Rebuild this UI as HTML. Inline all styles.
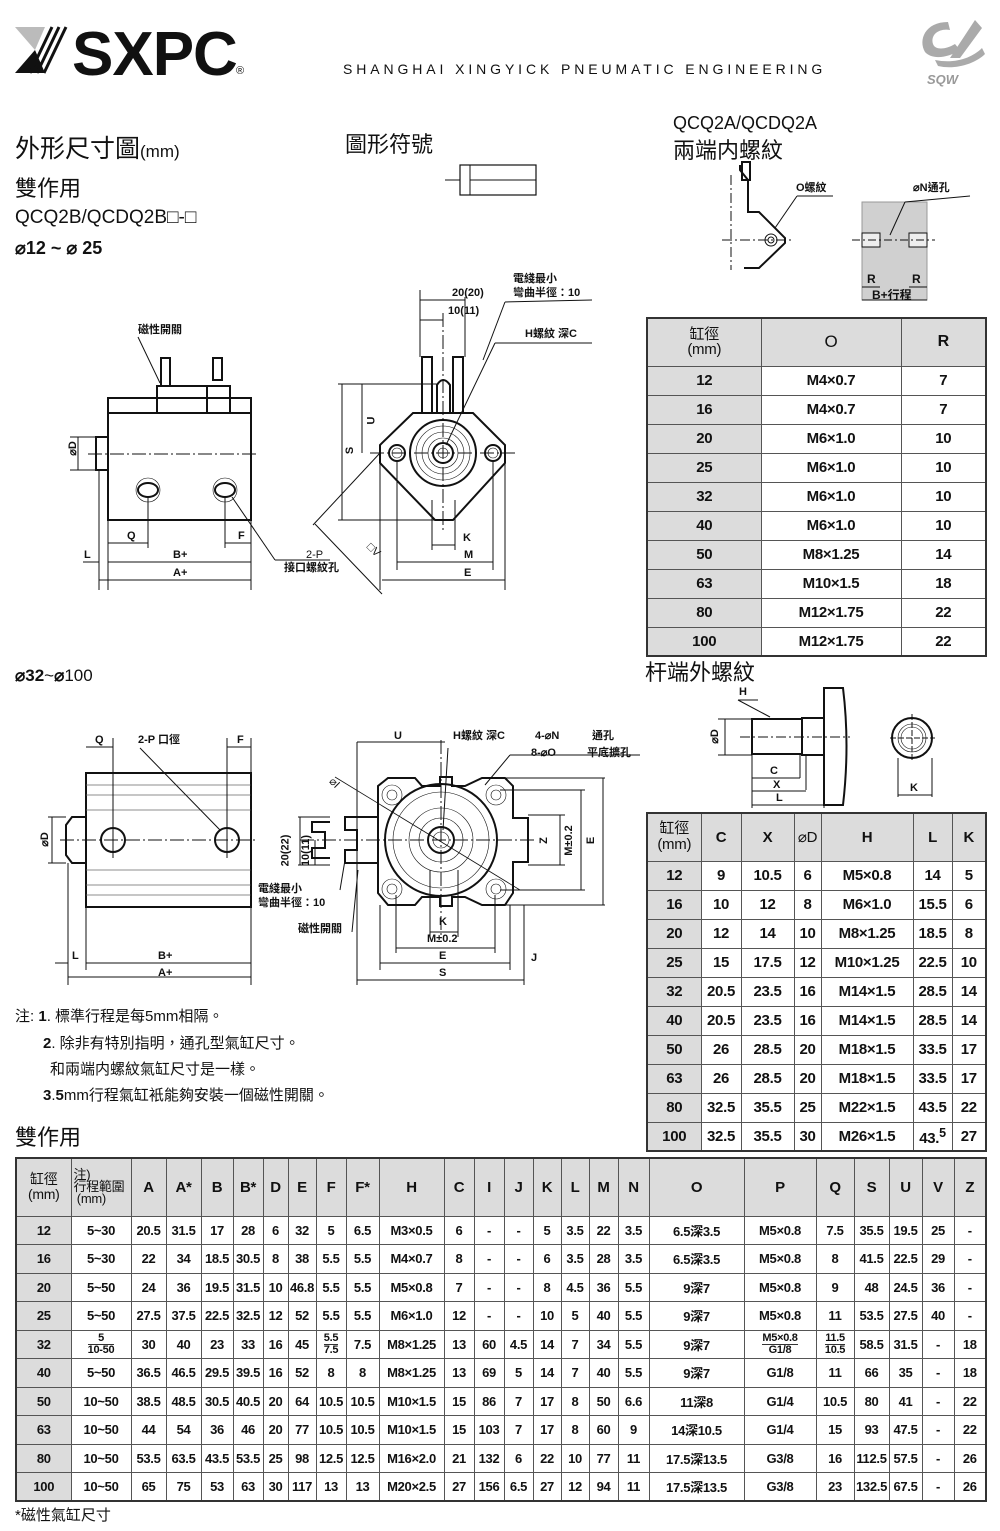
<!DOCTYPE html>
<html><head><meta charset="utf-8">
<style>
*{margin:0;padding:0;box-sizing:border-box}
body{width:1000px;height:1531px;background:#fff;position:relative;overflow:hidden;font-family:"Liberation Sans","Noto Sans CJK TC",sans-serif;color:#111}
.t{position:absolute;white-space:nowrap;line-height:1}
table{position:absolute;border-collapse:collapse;table-layout:fixed;border:2px solid #333}
td{border:1px solid #555;text-align:center;font-weight:bold;padding:0;overflow:hidden;white-space:nowrap;letter-spacing:-0.3px}
.g{background:#dcdcdc}
#t1 td{font-size:15px;height:29px}
#t2 td{font-size:15px;height:29px}
#t3 td{font-size:13px;height:28.5px}
.fr{display:inline-block;line-height:11px;font-size:11px}
.fr span{display:block}
svg{position:absolute;left:0;top:0}
</style></head><body>

<svg width="1000" height="1531" viewBox="0 0 1000 1531" fill="none" stroke="#111" stroke-width="1">
<polygon points="15,27 45,27 35,50" fill="#bbb" stroke="none"/>
<polygon points="15,73 45,73 35,50" fill="#111" stroke="none"/>
<g stroke="#111" stroke-width="3">
<line x1="30" y1="73" x2="52" y2="27"/><line x1="37" y1="73" x2="59" y2="27"/><line x1="44" y1="73" x2="66" y2="27"/>
</g>
<path d="M948,22 C925,22 918,40 925,52 C932,60 948,58 960,50 L955,44 C945,50 935,50 933,44 C930,34 940,28 950,30 Z" fill="#aaa" stroke="none"/>
<path d="M950,58 L975,20 L982,28 L960,58 Z" fill="#aaa" stroke="none"/>
<path d="M935,60 C955,64 972,58 982,48 L985,54 C975,64 955,70 938,66 Z" fill="#aaa" stroke="none"/>

<rect x="460" y="165" width="76" height="30" stroke-width="1.2"/>
<line x1="445" y1="180" x2="460" y2="180"/><line x1="470" y1="165" x2="470" y2="195"/>
<line x1="470" y1="180" x2="536" y2="180"/>

<g stroke-width="2">
<polyline points="740,165 740,170 748,180 748,212 759,212 785,238 785,243 759,268 744,268"/>
<rect x="742" y="162" width="8" height="18"/>
</g>
<line x1="731" y1="175" x2="731" y2="270" stroke-dasharray="10,3,2,3"/>
<line x1="722" y1="240" x2="793" y2="240" stroke-dasharray="10,3,2,3"/>
<circle cx="771" cy="240" r="6"/><circle cx="771" cy="240" r="3"/>
<line x1="775" y1="228" x2="797" y2="196"/><line x1="797" y1="196" x2="833" y2="196"/>
<path d="M862,202 L927,202 L927,300 L862,300 Z" fill="#d0d0d0" stroke="#999"/>
<rect x="862" y="233" width="18" height="14" fill="#eee"/><rect x="909" y="233" width="18" height="14" fill="#eee"/>
<line x1="852" y1="240" x2="935" y2="240" stroke-dasharray="8,3,2,3"/>
<line x1="890" y1="235" x2="905" y2="202"/><line x1="905" y1="202" x2="970" y2="196"/>
<line x1="862" y1="287" x2="880" y2="287"/><line x1="909" y1="287" x2="927" y2="287"/>
<line x1="862" y1="300" x2="927" y2="300"/>

<g stroke-width="2">
<rect x="108" y="398" width="143" height="122"/>
<line x1="108" y1="413" x2="251" y2="413"/>
<rect x="157" y="386" width="50" height="27"/>
<rect x="207" y="386" width="23" height="27"/>
<rect x="161" y="358" width="9" height="28"/>
<rect x="213" y="358" width="9" height="22"/>
<rect x="96" y="437" width="12" height="33"/>
<ellipse cx="148" cy="490" rx="10" ry="7"/>
<ellipse cx="225" cy="490" rx="10" ry="7"/>
</g>
<circle cx="148" cy="490" r="12" stroke-width="0.6"/><circle cx="225" cy="490" r="12" stroke-width="0.6"/>
<line x1="88" y1="454" x2="258" y2="454" stroke-dasharray="14,3,2,3"/>
<line x1="99" y1="470" x2="99" y2="590"/><line x1="108" y1="520" x2="108" y2="590"/><line x1="251" y1="520" x2="251" y2="590"/>
<line x1="148" y1="497" x2="148" y2="548"/><line x1="225" y1="497" x2="225" y2="548"/>
<line x1="108" y1="543" x2="148" y2="543"/><line x1="225" y1="543" x2="251" y2="543"/>
<line x1="108" y1="562" x2="251" y2="562"/><line x1="99" y1="580" x2="251" y2="580"/>
<line x1="83" y1="562" x2="99" y2="562"/>
<line x1="70" y1="437" x2="96" y2="437"/><line x1="70" y1="470" x2="96" y2="470"/><line x1="78" y1="437" x2="78" y2="470"/>
<line x1="138" y1="337" x2="160" y2="383"/>
<line x1="232" y1="497" x2="275" y2="560"/><line x1="275" y1="560" x2="330" y2="560"/>

<g stroke-width="2">
<polygon points="413,413 473,413 505,445 505,463 453,520 435,520 380,463 380,445"/>
<circle cx="443" cy="453" r="33"/>
<circle cx="443" cy="453" r="10"/>
<circle cx="397" cy="453" r="8"/><circle cx="493" cy="453" r="8"/>
<rect x="422" y="357" width="10" height="56"/>
<rect x="453" y="357" width="10" height="56"/>
<path d="M437,413 L437,385 Q443,375 450,385 L450,413"/>
</g>
<circle cx="443" cy="453" r="27" stroke-width="0.6"/><circle cx="443" cy="453" r="21" stroke-width="0.6"/><circle cx="443" cy="453" r="15" stroke-width="0.6"/><circle cx="443" cy="453" r="5" stroke-width="0.6"/>
<circle cx="397" cy="453" r="5" stroke-width="0.6"/><circle cx="493" cy="453" r="5" stroke-width="0.6"/>
<line x1="370" y1="453" x2="515" y2="453" stroke-dasharray="14,3,2,3"/>
<line x1="443" y1="313" x2="443" y2="530" stroke-dasharray="14,3,2,3"/>
<line x1="338" y1="384" x2="437" y2="384"/><line x1="338" y1="520" x2="435" y2="520"/>
<line x1="342" y1="384" x2="342" y2="520"/><line x1="362" y1="384" x2="362" y2="453"/>
<line x1="380" y1="463" x2="380" y2="590"/><line x1="397" y1="461" x2="397" y2="570"/><line x1="493" y1="461" x2="493" y2="570"/><line x1="505" y1="463" x2="505" y2="590"/>
<line x1="432" y1="500" x2="432" y2="550"/><line x1="455" y1="500" x2="455" y2="550"/>
<line x1="432" y1="545" x2="455" y2="545"/><line x1="397" y1="562" x2="493" y2="562"/><line x1="382" y1="580" x2="505" y2="580"/>
<line x1="313" y1="525" x2="380" y2="453"/><line x1="315" y1="524" x2="382" y2="594"/>
<line x1="420" y1="290" x2="420" y2="357"/><line x1="465" y1="297" x2="465" y2="357"/><line x1="420" y1="300" x2="465" y2="300"/><line x1="420" y1="320" x2="443" y2="320"/>
<line x1="483" y1="360" x2="505" y2="302"/><line x1="505" y1="302" x2="592" y2="300"/>
<line x1="446" y1="445" x2="495" y2="343"/><line x1="495" y1="343" x2="592" y2="343"/>

<g stroke-width="2">
<rect x="752" y="719" width="50" height="35"/>
<rect x="802" y="718" width="22" height="37"/>
<path d="M824,688 L843,688 Q850,745 843,805 L824,805 Z"/>
<circle cx="912" cy="738" r="20"/>
</g>
<circle cx="912" cy="738" r="14" stroke-width="0.6"/><circle cx="912" cy="738" r="11" stroke-width="0.6"/>
<line x1="740" y1="737" x2="850" y2="737" stroke-dasharray="10,3,2,3"/>
<line x1="890" y1="738" x2="935" y2="738" stroke-dasharray="6,2"/><line x1="912" y1="714" x2="912" y2="762" stroke-dasharray="6,2"/>
<line x1="718" y1="719" x2="752" y2="719"/><line x1="718" y1="755" x2="752" y2="755"/><line x1="725" y1="719" x2="725" y2="755"/>
<line x1="752" y1="755" x2="752" y2="808"/><line x1="800" y1="755" x2="800" y2="778"/><line x1="806" y1="755" x2="806" y2="790"/><line x1="824" y1="805" x2="824" y2="808"/>
<line x1="752" y1="778" x2="800" y2="778"/><line x1="752" y1="791" x2="806" y2="791"/><line x1="752" y1="805" x2="824" y2="805"/>
<line x1="898" y1="758" x2="898" y2="797"/><line x1="932" y1="758" x2="932" y2="797"/><line x1="898" y1="795" x2="932" y2="795"/>
<line x1="738" y1="700" x2="770" y2="717"/><line x1="738" y1="700" x2="758" y2="700"/>

<g stroke-width="2">
<rect x="86" y="773" width="165" height="134"/>
<path d="M86,817 L72,817 L66,825 L66,855 L72,863 L86,863"/>
<circle cx="113" cy="840" r="12"/><circle cx="227" cy="840" r="12"/>
</g>
<g stroke-width="0.7" stroke="#666">
<line x1="86" y1="785" x2="251" y2="785"/><line x1="86" y1="795" x2="251" y2="795"/><line x1="86" y1="810" x2="251" y2="810"/>
<line x1="86" y1="870" x2="251" y2="870"/><line x1="86" y1="885" x2="251" y2="885"/><line x1="86" y1="895" x2="251" y2="895"/>
</g>
<line x1="60" y1="840" x2="258" y2="840" stroke-dasharray="14,3,2,3"/>
<line x1="113" y1="738" x2="113" y2="858"/><line x1="227" y1="738" x2="227" y2="858"/><line x1="251" y1="738" x2="251" y2="985"/><line x1="86" y1="907" x2="86" y2="970"/><line x1="68" y1="863" x2="68" y2="985"/>
<line x1="86" y1="747" x2="113" y2="747"/><line x1="227" y1="747" x2="251" y2="747"/>
<line x1="86" y1="963" x2="251" y2="963"/><line x1="68" y1="977" x2="251" y2="977"/><line x1="55" y1="963" x2="68" y2="963"/>
<line x1="48" y1="817" x2="66" y2="817"/><line x1="48" y1="863" x2="66" y2="863"/><line x1="52" y1="817" x2="52" y2="863"/>
<line x1="140" y1="748" x2="220" y2="830"/>

<g stroke-width="2">
<path d="M388,778 L415,778 L422,786 L440,786 L440,777 L452,777 L452,786 L465,786 L482,778 L505,778 L513,786 L513,818 L528,818 L528,862 L513,862 L513,893 L505,905 L482,905 L465,897 L452,897 L452,906 L440,906 L440,897 L422,897 L415,905 L388,905 L378,893 L378,862 L378,818 L378,786 Z"/>
<circle cx="441" cy="840" r="56"/>
<circle cx="441" cy="840" r="13"/>
<path d="M378,817 L345,817 L345,830 L357,830 L357,850 L345,850 L345,863 L378,863"/>
<path d="M330,822 L312,822 L312,832 L325,832 L325,848 L312,848 L312,858 L330,858"/>
</g>
<g stroke-width="0.6">
<circle cx="441" cy="840" r="48"/><circle cx="441" cy="840" r="32"/><circle cx="441" cy="840" r="22"/><circle cx="441" cy="840" r="8"/>
<circle cx="392" cy="795" r="10"/><circle cx="392" cy="795" r="5"/><circle cx="496" cy="795" r="10"/><circle cx="496" cy="795" r="5"/>
<circle cx="392" cy="889" r="10"/><circle cx="392" cy="889" r="5"/><circle cx="496" cy="889" r="10"/><circle cx="496" cy="889" r="5"/>
</g>
<line x1="300" y1="840" x2="535" y2="840" stroke-dasharray="14,3,2,3"/>
<line x1="441" y1="740" x2="441" y2="935" stroke-dasharray="14,3,2,3"/>
<line x1="357" y1="742" x2="357" y2="985"/><line x1="524" y1="905" x2="524" y2="985"/><line x1="380" y1="905" x2="380" y2="970"/><line x1="510" y1="905" x2="510" y2="970"/>
<line x1="357" y1="742" x2="445" y2="742"/><line x1="357" y1="980" x2="524" y2="980"/><line x1="380" y1="963" x2="510" y2="963"/><line x1="396" y1="948" x2="495" y2="948"/><line x1="430" y1="932" x2="458" y2="932"/>
<line x1="396" y1="895" x2="396" y2="953"/><line x1="495" y1="895" x2="495" y2="953"/><line x1="430" y1="870" x2="430" y2="937"/><line x1="458" y1="870" x2="458" y2="937"/>
<line x1="505" y1="778" x2="605" y2="778"/><line x1="505" y1="905" x2="605" y2="905"/><line x1="603" y1="778" x2="603" y2="905"/>
<line x1="500" y1="790" x2="585" y2="790"/><line x1="500" y1="890" x2="585" y2="890"/><line x1="581" y1="790" x2="581" y2="890"/>
<line x1="528" y1="815" x2="565" y2="815"/><line x1="528" y1="865" x2="565" y2="865"/><line x1="560" y1="815" x2="560" y2="865"/>
<line x1="298" y1="817" x2="330" y2="817"/><line x1="298" y1="865" x2="330" y2="865"/><line x1="300" y1="817" x2="300" y2="865"/><line x1="315" y1="840" x2="315" y2="865"/>
<line x1="335" y1="777" x2="520" y2="890" stroke-width="0.8"/>
<line x1="485" y1="785" x2="510" y2="755"/><line x1="510" y1="755" x2="640" y2="755"/>
<line x1="443" y1="830" x2="448" y2="748"/>
<line x1="340" y1="890" x2="345" y2="860"/><line x1="352" y1="932" x2="358" y2="870"/>
</svg>

<div class="t" style="left:72px;top:24px;font-size:62px;font-weight:bold;letter-spacing:-1px">SXPC</div>
<div class="t" style="left:236px;top:66px;font-size:11px">®</div>
<div class="t" style="left:343px;top:62px;font-size:14px;letter-spacing:3.9px">SHANGHAI XINGYICK PNEUMATIC ENGINEERING</div>
<div class="t" style="left:927px;top:73px;font-size:13px;font-weight:bold;color:#999;font-style:italic">SQW</div>

<div class="t" style="left:15px;top:137px;font-size:25px">外形尺寸圖<span style="font-size:17px">(mm)</span></div>
<div class="t" style="left:15px;top:178px;font-size:22px">雙作用</div>
<div class="t" style="left:15px;top:208px;font-size:19px">QCQ2B/QCDQ2B□-□</div>
<div class="t" style="left:15px;top:239px;font-size:18px;font-weight:bold">⌀12 ~ ⌀ 25</div>
<div class="t" style="left:345px;top:134px;font-size:22px">圖形符號</div>
<div class="t" style="left:673px;top:114px;font-size:18px">QCQ2A/QCDQ2A</div>
<div class="t" style="left:673px;top:140px;font-size:22px">兩端内螺紋</div>
<div class="t" style="left:796px;top:183px;font-size:11px;font-weight:bold">O螺紋</div>
<div class="t" style="left:913px;top:183px;font-size:11px;font-weight:bold">⌀N通孔</div>
<div class="t" style="left:867px;top:273px;font-size:12px;font-weight:bold">R</div>
<div class="t" style="left:912px;top:273px;font-size:12px;font-weight:bold">R</div>
<div class="t" style="left:872px;top:289px;font-size:12px;font-weight:bold">B+行程</div>

<div class="t" style="left:138px;top:325px;font-size:11px;font-weight:bold">磁性開關</div>
<div class="t" style="left:66px;top:443px;font-size:11px;font-weight:bold;transform:rotate(-90deg)">⌀D</div>
<div class="t" style="left:127px;top:531px;font-size:11px;font-weight:bold">Q</div>
<div class="t" style="left:238px;top:531px;font-size:11px;font-weight:bold">F</div>
<div class="t" style="left:84px;top:550px;font-size:11px;font-weight:bold">L</div>
<div class="t" style="left:173px;top:550px;font-size:11px;font-weight:bold">B+</div>
<div class="t" style="left:173px;top:568px;font-size:11px;font-weight:bold">A+</div>
<div class="t" style="left:306px;top:550px;font-size:11px">2-P</div>
<div class="t" style="left:284px;top:563px;font-size:11px;font-weight:bold">接口螺紋孔</div>
<div class="t" style="left:513px;top:274px;font-size:11px;font-weight:bold">電綫最小</div>
<div class="t" style="left:513px;top:288px;font-size:11px;font-weight:bold">彎曲半徑：10</div>
<div class="t" style="left:452px;top:288px;font-size:11px;font-weight:bold">20(20)</div>
<div class="t" style="left:448px;top:306px;font-size:11px;font-weight:bold">10(11)</div>
<div class="t" style="left:525px;top:329px;font-size:11px;font-weight:bold">H螺紋 深C</div>
<div class="t" style="left:347px;top:445px;font-size:11px;font-weight:bold;transform:rotate(-90deg)">S</div>
<div class="t" style="left:368px;top:415px;font-size:11px;font-weight:bold;transform:rotate(-90deg)">U</div>
<div class="t" style="left:463px;top:533px;font-size:11px;font-weight:bold">K</div>
<div class="t" style="left:464px;top:550px;font-size:11px;font-weight:bold">M</div>
<div class="t" style="left:464px;top:568px;font-size:11px;font-weight:bold">E</div>
<div class="t" style="left:366px;top:545px;font-size:11px;transform:rotate(45deg)">□V</div>

<table id="t1" style="left:646px;top:317px;width:339px">
<col style="width:114px"><col style="width:140px"><col style="width:85px">
<tr class="g"><td style="height:48px;font-weight:normal;font-size:15px;line-height:15px">缸徑<br>(mm)</td><td style="font-weight:normal;font-size:17px">O</td><td style="font-size:16px">R</td></tr>
<tr><td class="g">12</td><td>M4×0.7</td><td>7</td></tr>
<tr><td class="g">16</td><td>M4×0.7</td><td>7</td></tr>
<tr><td class="g">20</td><td>M6×1.0</td><td>10</td></tr>
<tr><td class="g">25</td><td>M6×1.0</td><td>10</td></tr>
<tr><td class="g">32</td><td>M6×1.0</td><td>10</td></tr>
<tr><td class="g">40</td><td>M6×1.0</td><td>10</td></tr>
<tr><td class="g">50</td><td>M8×1.25</td><td>14</td></tr>
<tr><td class="g">63</td><td>M10×1.5</td><td>18</td></tr>
<tr><td class="g">80</td><td>M12×1.75</td><td>22</td></tr>
<tr><td class="g">100</td><td>M12×1.75</td><td>22</td></tr>
</table>

<div class="t" style="left:645px;top:662px;font-size:22px">杆端外螺紋</div>
<div class="t" style="left:739px;top:687px;font-size:11px;font-weight:bold">H</div>
<div class="t" style="left:708px;top:731px;font-size:11px;font-weight:bold;transform:rotate(-90deg)">⌀D</div>
<div class="t" style="left:770px;top:766px;font-size:11px;font-weight:bold">C</div>
<div class="t" style="left:773px;top:780px;font-size:11px;font-weight:bold">X</div>
<div class="t" style="left:776px;top:793px;font-size:11px;font-weight:bold">L</div>
<div class="t" style="left:910px;top:783px;font-size:11px;font-weight:bold">K</div>

<table id="t2" style="left:646px;top:812px;width:339px">
<col style="width:54px"><col style="width:40px"><col style="width:53px"><col style="width:27px"><col style="width:92px"><col style="width:39px"><col style="width:34px">
<tr class="g"><td style="height:48px;font-weight:normal;font-size:15px;line-height:16px">缸徑<br>(mm)</td><td>C</td><td>X</td><td style="font-weight:normal">⌀D</td><td>H</td><td>L</td><td>K</td></tr>
<tr><td class="g">12</td><td>9</td><td>10.5</td><td>6</td><td>M5×0.8</td><td>14</td><td>5</td></tr>
<tr><td class="g">16</td><td>10</td><td>12</td><td>8</td><td>M6×1.0</td><td>15.5</td><td>6</td></tr>
<tr><td class="g">20</td><td>12</td><td>14</td><td>10</td><td>M8×1.25</td><td>18.5</td><td>8</td></tr>
<tr><td class="g">25</td><td>15</td><td>17.5</td><td>12</td><td>M10×1.25</td><td>22.5</td><td>10</td></tr>
<tr><td class="g">32</td><td>20.5</td><td>23.5</td><td>16</td><td>M14×1.5</td><td>28.5</td><td>14</td></tr>
<tr><td class="g">40</td><td>20.5</td><td>23.5</td><td>16</td><td>M14×1.5</td><td>28.5</td><td>14</td></tr>
<tr><td class="g">50</td><td>26</td><td>28.5</td><td>20</td><td>M18×1.5</td><td>33.5</td><td>17</td></tr>
<tr><td class="g">63</td><td>26</td><td>28.5</td><td>20</td><td>M18×1.5</td><td>33.5</td><td>17</td></tr>
<tr><td class="g">80</td><td>32.5</td><td>35.5</td><td>25</td><td>M22×1.5</td><td>43.5</td><td>22</td></tr>
<tr><td class="g">100</td><td>32.5</td><td>35.5</td><td>30</td><td>M26×1.5</td><td>43.<sup>5</sup></td><td>27</td></tr>
</table>

<div class="t" style="left:15px;top:667px;font-size:17px"><b>⌀32</b>~<b>⌀</b>100</div>
<div class="t" style="left:95px;top:735px;font-size:11px;font-weight:bold">Q</div>
<div class="t" style="left:138px;top:735px;font-size:11px;font-weight:bold">2-P 口徑</div>
<div class="t" style="left:237px;top:735px;font-size:11px;font-weight:bold">F</div>
<div class="t" style="left:38px;top:834px;font-size:11px;font-weight:bold;transform:rotate(-90deg)">⌀D</div>
<div class="t" style="left:72px;top:951px;font-size:11px;font-weight:bold">L</div>
<div class="t" style="left:158px;top:951px;font-size:11px;font-weight:bold">B+</div>
<div class="t" style="left:158px;top:968px;font-size:11px;font-weight:bold">A+</div>
<div class="t" style="left:394px;top:731px;font-size:11px;font-weight:bold">U</div>
<div class="t" style="left:453px;top:731px;font-size:11px;font-weight:bold">H螺紋 深C</div>
<div class="t" style="left:535px;top:731px;font-size:11px;font-weight:bold">4-⌀N</div>
<div class="t" style="left:592px;top:731px;font-size:11px;font-weight:bold">通孔</div>
<div class="t" style="left:531px;top:748px;font-size:11px;font-weight:bold">8-⌀O</div>
<div class="t" style="left:587px;top:748px;font-size:11px;font-weight:bold">平底擴孔</div>
<div class="t" style="left:329px;top:778px;font-size:11px;transform:rotate(45deg)">⌀I</div>
<div class="t" style="left:270px;top:845px;font-size:11px;font-weight:bold;transform:rotate(-90deg)">20(22)</div>
<div class="t" style="left:291px;top:845px;font-size:11px;font-weight:bold;transform:rotate(-90deg)">10(11)</div>
<div class="t" style="left:541px;top:835px;font-size:11px;font-weight:bold;transform:rotate(-90deg)">Z</div>
<div class="t" style="left:554px;top:835px;font-size:11px;font-weight:bold;transform:rotate(-90deg)">M±0.2</div>
<div class="t" style="left:588px;top:835px;font-size:11px;font-weight:bold;transform:rotate(-90deg)">E</div>
<div class="t" style="left:258px;top:884px;font-size:11px;font-weight:bold">電綫最小</div>
<div class="t" style="left:258px;top:898px;font-size:11px;font-weight:bold">彎曲半徑：10</div>
<div class="t" style="left:298px;top:924px;font-size:11px;font-weight:bold">磁性開關</div>
<div class="t" style="left:439px;top:917px;font-size:11px;font-weight:bold">K</div>
<div class="t" style="left:427px;top:934px;font-size:11px;font-weight:bold">M±0.2</div>
<div class="t" style="left:439px;top:951px;font-size:11px;font-weight:bold">E</div>
<div class="t" style="left:439px;top:968px;font-size:11px;font-weight:bold">S</div>
<div class="t" style="left:531px;top:953px;font-size:11px;font-weight:bold">J</div>

<div class="t" style="left:15px;top:1009px;font-size:15px">注: <b>1</b>. 標準行程是每5mm相隔。</div>
<div class="t" style="left:43px;top:1036px;font-size:15px"><b>2</b>. 除非有特別指明，通孔型氣缸尺寸。</div>
<div class="t" style="left:50px;top:1062px;font-size:15px">和兩端内螺紋氣缸尺寸是一樣。</div>
<div class="t" style="left:43px;top:1088px;font-size:15px"><b>3</b>.<b>5</b>mm行程氣缸衹能夠安裝一個磁性開關。</div>
<div class="t" style="left:15px;top:1127px;font-size:22px">雙作用</div>

<table id="t3" style="left:15px;top:1157px;width:970px">
<col style="width:55px"><col style="width:60px"><col style="width:35px"><col style="width:35px"><col style="width:32px"><col style="width:30px"><col style="width:25px"><col style="width:28px"><col style="width:30px"><col style="width:33px"><col style="width:65px"><col style="width:30px"><col style="width:30px"><col style="width:29px"><col style="width:28px"><col style="width:28px"><col style="width:29px"><col style="width:31px"><col style="width:95px"><col style="width:72px"><col style="width:38px"><col style="width:35px"><col style="width:33px"><col style="width:32px"><col style="width:32px">
<tr class="g"><td style="height:58px;font-weight:normal;font-size:14px;line-height:15px">缸徑<br>(mm)</td><td style="font-weight:normal;font-size:13px;line-height:12px;text-align:left;padding-left:2px">注)<br>行程範圍<br>&nbsp;(mm)</td><td style="font-size:15px">A</td><td style="font-size:15px">A*</td><td style="font-size:15px">B</td><td style="font-size:15px">B*</td><td style="font-size:15px">D</td><td style="font-size:15px">E</td><td style="font-size:15px">F</td><td style="font-size:15px">F*</td><td style="font-size:15px">H</td><td style="font-size:15px">C</td><td style="font-size:15px">I</td><td style="font-size:15px">J</td><td style="font-size:15px">K</td><td style="font-size:15px">L</td><td style="font-size:15px">M</td><td style="font-size:15px">N</td><td style="font-size:15px">O</td><td style="font-size:15px">P</td><td style="font-size:15px">Q</td><td style="font-size:15px">S</td><td style="font-size:15px">U</td><td style="font-size:15px">V</td><td style="font-size:15px">Z</td></tr>
<tr><td class="g">12</td><td>5~30</td><td>20.5</td><td>31.5</td><td>17</td><td>28</td><td>6</td><td>32</td><td>5</td><td>6.5</td><td>M3×0.5</td><td>6</td><td>-</td><td>-</td><td>5</td><td>3.5</td><td>22</td><td>3.5</td><td>6.5深3.5</td><td>M5×0.8</td><td>7.5</td><td>35.5</td><td>19.5</td><td>25</td><td>-</td></tr>
<tr><td class="g">16</td><td>5~30</td><td>22</td><td>34</td><td>18.5</td><td>30.5</td><td>8</td><td>38</td><td>5.5</td><td>5.5</td><td>M4×0.7</td><td>8</td><td>-</td><td>-</td><td>6</td><td>3.5</td><td>28</td><td>3.5</td><td>6.5深3.5</td><td>M5×0.8</td><td>8</td><td>41.5</td><td>22.5</td><td>29</td><td>-</td></tr>
<tr><td class="g">20</td><td>5~50</td><td>24</td><td>36</td><td>19.5</td><td>31.5</td><td>10</td><td>46.8</td><td>5.5</td><td>5.5</td><td>M5×0.8</td><td>7</td><td>-</td><td>-</td><td>8</td><td>4.5</td><td>36</td><td>5.5</td><td>9深7</td><td>M5×0.8</td><td>9</td><td>48</td><td>24.5</td><td>36</td><td>-</td></tr>
<tr><td class="g">25</td><td>5~50</td><td>27.5</td><td>37.5</td><td>22.5</td><td>32.5</td><td>12</td><td>52</td><td>5.5</td><td>5.5</td><td>M6×1.0</td><td>12</td><td>-</td><td>-</td><td>10</td><td>5</td><td>40</td><td>5.5</td><td>9深7</td><td>M5×0.8</td><td>11</td><td>53.5</td><td>27.5</td><td>40</td><td>-</td></tr>
<tr><td class="g">32</td><td><span class="fr"><span style="border-bottom:1px solid #333">5</span><span>10-50</span></span></td><td>30</td><td>40</td><td>23</td><td>33</td><td>16</td><td>45</td><td><span class="fr"><span style="border-bottom:1px solid #333">5.5</span><span>7.5</span></span></td><td>7.5</td><td>M8×1.25</td><td>13</td><td>60</td><td>4.5</td><td>14</td><td>7</td><td>34</td><td>5.5</td><td>9深7</td><td><span class="fr"><span style="border-bottom:1px solid #333">M5×0.8</span><span>G1/8</span></span></td><td><span class="fr"><span style="border-bottom:1px solid #333">11.5</span><span>10.5</span></span></td><td>58.5</td><td>31.5</td><td>-</td><td>18</td></tr>
<tr><td class="g">40</td><td>5~50</td><td>36.5</td><td>46.5</td><td>29.5</td><td>39.5</td><td>16</td><td>52</td><td>8</td><td>8</td><td>M8×1.25</td><td>13</td><td>69</td><td>5</td><td>14</td><td>7</td><td>40</td><td>5.5</td><td>9深7</td><td>G1/8</td><td>11</td><td>66</td><td>35</td><td>-</td><td>18</td></tr>
<tr><td class="g">50</td><td>10~50</td><td>38.5</td><td>48.5</td><td>30.5</td><td>40.5</td><td>20</td><td>64</td><td>10.5</td><td>10.5</td><td>M10×1.5</td><td>15</td><td>86</td><td>7</td><td>17</td><td>8</td><td>50</td><td>6.6</td><td>11深8</td><td>G1/4</td><td>10.5</td><td>80</td><td>41</td><td>-</td><td>22</td></tr>
<tr><td class="g">63</td><td>10~50</td><td>44</td><td>54</td><td>36</td><td>46</td><td>20</td><td>77</td><td>10.5</td><td>10.5</td><td>M10×1.5</td><td>15</td><td>103</td><td>7</td><td>17</td><td>8</td><td>60</td><td>9</td><td>14深10.5</td><td>G1/4</td><td>15</td><td>93</td><td>47.5</td><td>-</td><td>22</td></tr>
<tr><td class="g">80</td><td>10~50</td><td>53.5</td><td>63.5</td><td>43.5</td><td>53.5</td><td>25</td><td>98</td><td>12.5</td><td>12.5</td><td>M16×2.0</td><td>21</td><td>132</td><td>6</td><td>22</td><td>10</td><td>77</td><td>11</td><td>17.5深13.5</td><td>G3/8</td><td>16</td><td>112.5</td><td>57.5</td><td>-</td><td>26</td></tr>
<tr><td class="g">100</td><td>10~50</td><td>65</td><td>75</td><td>53</td><td>63</td><td>30</td><td>117</td><td>13</td><td>13</td><td>M20×2.5</td><td>27</td><td>156</td><td>6.5</td><td>27</td><td>12</td><td>94</td><td>11</td><td>17.5深13.5</td><td>G3/8</td><td>23</td><td>132.5</td><td>67.5</td><td>-</td><td>26</td></tr>
</table>
<div class="t" style="left:15px;top:1508px;font-size:15px">*磁性氣缸尺寸</div>
</body></html>
